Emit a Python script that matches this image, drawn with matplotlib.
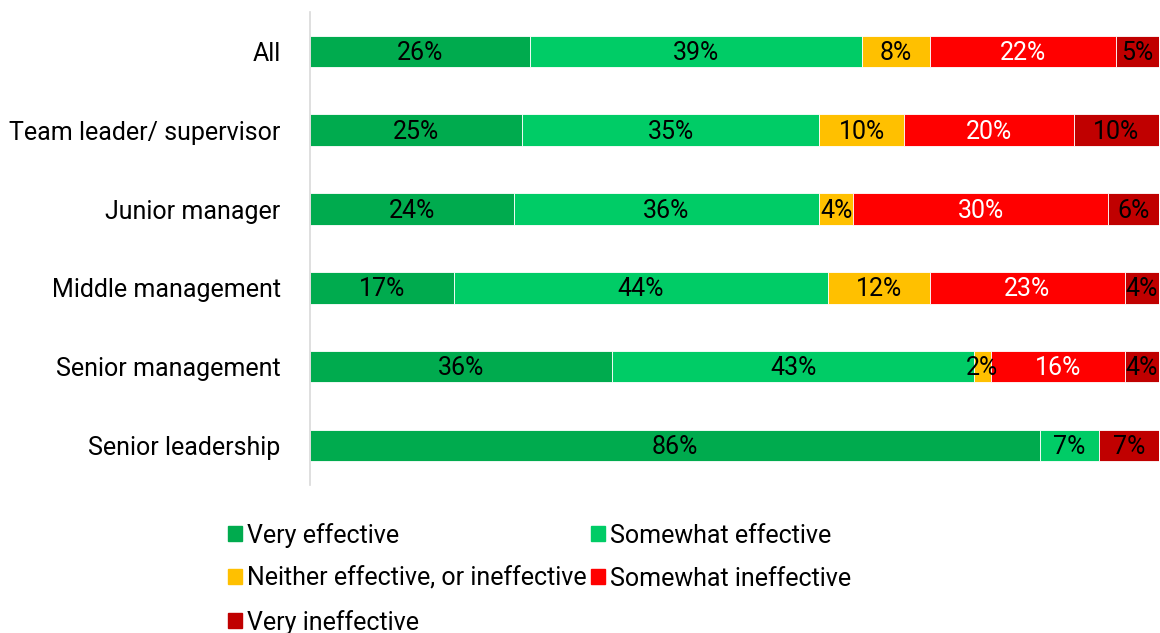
import numpy as np
import matplotlib.pyplot as plt
from matplotlib.patches import Patch

plt.rcParams['font.family'] = ['Roboto', 'DejaVu Sans']

# survey groups, top to bottom
groups = ['All', 'Team leader/ supervisor', 'Junior manager',
          'Middle management', 'Senior management', 'Senior leadership']

# answer shares in percent for each group
very_eff = [26, 25, 24, 17, 36, 86]
somewhat_eff = [39, 35, 36, 44, 43, 7]
neither = [8, 10, 4, 12, 2, 0]
somewhat_ineff = [22, 20, 30, 23, 16, 0]
very_ineff = [5, 10, 6, 4, 4, 7]

series = [very_eff, somewhat_eff, neither, somewhat_ineff, very_ineff]
names = ['Very effective', 'Somewhat effective',
         'Neither effective, or ineffective', 'Somewhat ineffective',
         'Very ineffective']
colors = ['#00AB4E', '#00CC66', '#FFC000', '#FF0000', '#C00000']
txt_colors = ['black', 'black', 'black', 'white', 'black']

vals = np.array(series, dtype=float)
totals = vals.sum(axis=0)
shares = vals / totals * 100   # 100% stacked

fig = plt.figure(figsize=(11.6, 6.33), dpi=100)
ax = fig.add_axes([0.267, 0.234, 0.732, 0.747])

y = np.arange(len(groups))
left = np.zeros(len(groups))
for k in range(len(series)):
    ax.barh(y, shares[k], left=left, height=0.4, color=colors[k],
            edgecolor='white', linewidth=0.6, label=names[k])
    for i in range(len(groups)):
        if vals[k, i] > 0:
            ax.text(left[i] + shares[k, i] / 2, y[i] + 0.02,
                    '%d%%' % vals[k, i], ha='center', va='center',
                    fontsize=18, color=txt_colors[k])
    left += shares[k]

ax.set_xlim(0, 100)
ax.set_ylim(len(groups) - 0.5, -0.5)
ax.set_yticks(y)
ax.set_yticklabels(groups, fontsize=18)
ax.tick_params(axis='y', length=0, pad=21)
ax.set_xticks([])
for s in ['top', 'right', 'bottom']:
    ax.spines[s].set_visible(False)
ax.spines['left'].set_color('#D9D9D9')
ax.spines['left'].set_linewidth(1.2)

handles = [Patch(color=c) for c in colors]
order = [0, 2, 4, 1, 3]
fig.legend([handles[o] for o in order], [names[o] for o in order],
           ncol=2, loc='upper left', bbox_to_anchor=(0.188, 0.19),
           frameon=False, fontsize=18, handlelength=0.55, handleheight=0.55,
           handletextpad=0.2, columnspacing=0.2, labelspacing=0.76,
           borderaxespad=0)

fig.savefig('out.png', dpi=100)
